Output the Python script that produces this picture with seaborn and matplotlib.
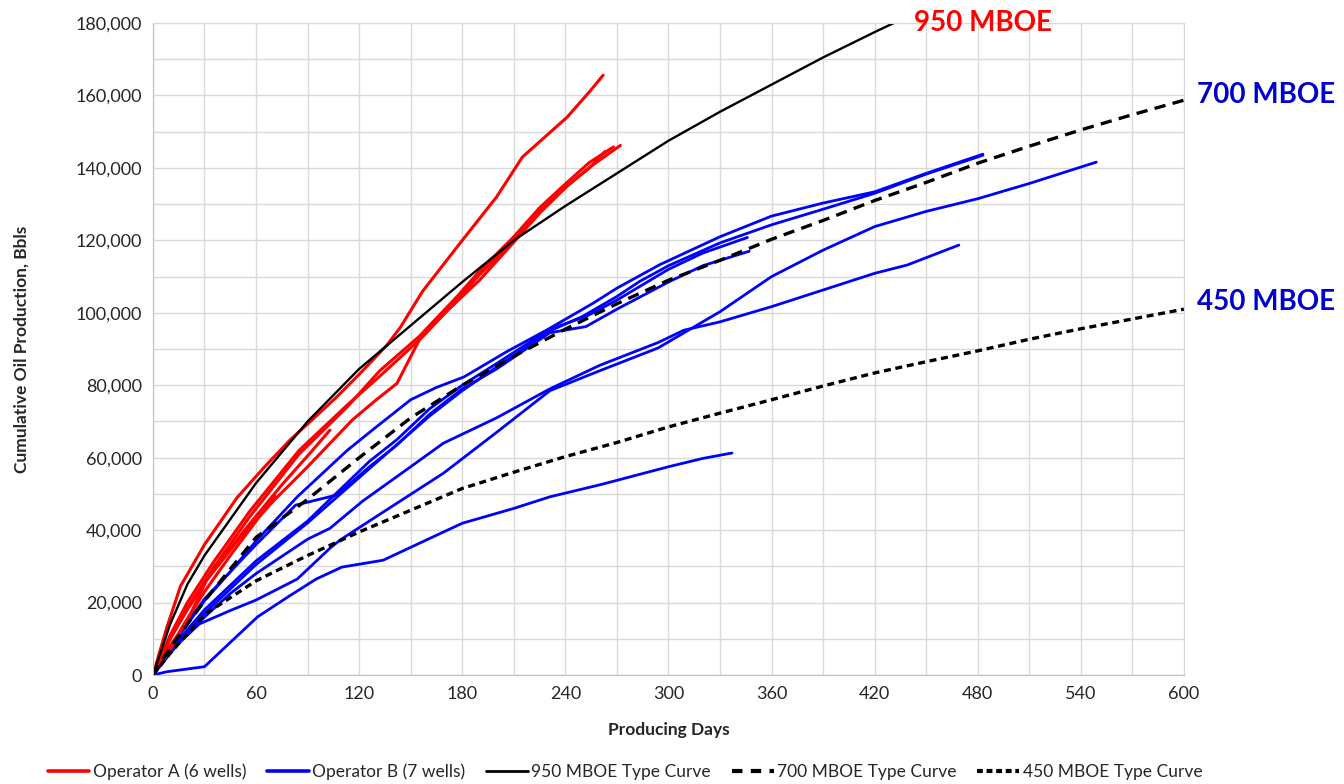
import matplotlib
matplotlib.use("Agg")
import matplotlib.pyplot as plt
from matplotlib.lines import Line2D
from matplotlib.ticker import MultipleLocator, FuncFormatter
import seaborn as sns
import pandas as pd

# ---- type curves ----
tc950_days = [0, 10, 20, 30, 45, 60, 90, 120, 150, 180, 210, 240, 270, 300, 330, 360, 390, 420, 440]
tc950_oil = [0, 14000, 25000, 33000, 43000, 53000, 70000, 84500, 96500, 108500, 120000, 129500,
             138500, 147500, 155500, 163000, 170500, 177500, 182000]

tc700_days = [0, 10, 30, 60, 90, 120, 150, 180, 210, 240, 270, 300, 330, 360, 390, 420, 450, 480,
              510, 540, 570, 600]
tc700_oil = [0, 7500, 20500, 38000, 48500, 60000, 71000, 80000, 88000, 95500, 102500, 109000,
             114500, 120300, 125500, 131000, 136000, 141300, 146000, 150500, 154700, 158700]

tc450_days = [0, 10, 30, 60, 90, 120, 150, 180, 210, 240, 270, 300, 330, 360, 390, 420, 450, 480,
              510, 540, 570, 600]
tc450_oil = [0, 6000, 16700, 26000, 33000, 39500, 45500, 51500, 56000, 60300, 64200, 68500, 72300,
             76000, 79800, 83400, 86500, 89500, 92700, 95600, 98300, 101000]

# ---- Operator A wells ----
a1_days = [0, 8, 16, 30, 49, 65, 80, 95, 107, 120, 136, 144, 157, 180, 200, 215, 228, 241, 254, 262]
a1_oil = [0, 13000, 24500, 36000, 49000, 57500, 65000, 71500, 76800, 83000, 91000, 96000, 106000,
          120000, 132000, 143000, 148500, 154000, 161000, 165600]
a2_days = [0, 10, 20, 35, 56, 85, 113, 132, 155, 177, 190, 210, 225, 241, 254, 263]
a2_oil = [0, 11000, 20000, 31000, 45000, 62000, 74500, 82500, 92500, 103500, 110500, 120000,
          128000, 135000, 140000, 144500]
a3_days = [0, 10, 20, 35, 56, 85, 113, 132, 155, 177, 190, 210, 225, 241, 254, 268]
a3_oil = [0, 10000, 18500, 29500, 43500, 61000, 74000, 84000, 93500, 104500, 111500, 121000,
          129000, 136000, 141500, 145800]
a4_days = [0, 10, 20, 31, 50, 70, 90, 116, 130, 142, 155, 170, 190, 210, 225, 241, 255, 272]
a4_oil = [0, 8000, 15000, 26000, 37500, 48000, 57500, 70400, 76000, 80500, 92500, 100000, 109000,
          119500, 127500, 135000, 140500, 146200]
a5_days = [0, 10, 20, 35, 55, 75, 90, 103]
a5_oil = [0, 10000, 18000, 29000, 41000, 52500, 60500, 67600]
a6_days = [0, 10, 18, 30, 45, 60, 71]
a6_oil = [0, 7000, 14000, 23000, 33000, 42500, 49400]

# ---- Operator B wells ----
b1_days = [0, 10, 20, 30, 45, 60, 84, 113, 130, 150, 165, 181, 206, 229, 256, 270, 295, 330, 360,
           390, 420, 450, 483]
b1_oil = [0, 7500, 14000, 20500, 28500, 37000, 49200, 62000, 68500, 76000, 79400, 82300, 89300,
          95200, 102600, 106800, 113300, 121000, 126700, 130300, 133400, 138500, 143800]
b2_days = [0, 10, 27, 45, 60, 84, 103, 109, 136, 169, 200, 231, 260, 294, 330, 360, 390, 420, 450,
           480, 510, 549]
b2_oil = [0, 6500, 14100, 17800, 20700, 26500, 35000, 37300, 45600, 55700, 67000, 78500, 84000,
          90300, 100300, 110000, 117300, 123800, 128000, 131500, 135700, 141600]
b3_days = [0, 15, 30, 45, 60, 90, 103, 122, 150, 169, 200, 231, 260, 294, 309, 330, 360, 390, 420,
           439, 469]
b3_oil = [0, 9000, 16000, 22500, 28000, 37500, 40500, 48000, 57500, 64000, 71000, 79000, 85500,
          91800, 95200, 97500, 101700, 106300, 110900, 113200, 118700]
b4_days = [0, 8, 30, 45, 61, 80, 95, 110, 134, 161, 180, 210, 231, 260, 280, 300, 320, 337]
b4_oil = [0, 900, 2300, 9000, 16100, 22000, 26500, 29800, 31700, 37700, 41900, 46000, 49200, 52500,
          55000, 57500, 59800, 61300]
b5_days = [0, 10, 30, 60, 90, 103, 126, 142, 161, 180, 200, 231, 252, 270, 300, 320, 346]
b5_oil = [0, 7000, 18000, 31500, 42500, 48500, 59000, 65000, 73500, 80000, 86000, 95500, 99000,
          103500, 112000, 116500, 120800]
b6_days = [0, 10, 30, 60, 83, 95, 107, 126, 142, 161, 180, 200, 231, 252, 270, 300, 320, 347]
b6_oil = [0, 8000, 21000, 36000, 46900, 48300, 49700, 57500, 63500, 72000, 79000, 84500, 94500,
          96200, 101000, 108500, 113000, 117000]
b7_days = [0, 10, 30, 60, 90, 126, 161, 180, 200, 231, 250, 270, 283, 300, 330, 360, 390, 420, 450,
           483]
b7_oil = [0, 6000, 17000, 30500, 42000, 57000, 71500, 78500, 85000, 95000, 99000, 104500, 108600,
          113000, 119300, 124300, 128600, 133000, 138300, 143500]

op_a = [(a1_days, a1_oil), (a2_days, a2_oil), (a3_days, a3_oil),
        (a4_days, a4_oil), (a5_days, a5_oil), (a6_days, a6_oil)]
op_b = [(b1_days, b1_oil), (b2_days, b2_oil), (b3_days, b3_oil), (b4_days, b4_oil),
        (b5_days, b5_oil), (b6_days, b6_oil), (b7_days, b7_oil)]


def wells_frame(wells, prefix):
    rows = []
    for i, (d, q) in enumerate(wells):
        for x, y in zip(d, q):
            rows.append({"day": x, "oil": y, "well": f"{prefix}{i + 1}"})
    return pd.DataFrame(rows)


df_a = wells_frame(op_a, "A")
df_b = wells_frame(op_b, "B")

sns.set_style("whitegrid")
plt.rcParams["font.family"] = ["Lato", "DejaVu Sans"]

fig = plt.figure(figsize=(13.44, 7.84), dpi=100)
ax = fig.add_axes([0.1138, 0.1390, 0.7671, 0.8316])

sns.lineplot(data=df_b, x="day", y="oil", units="well", estimator=None, sort=False,
             color="#0000FF", lw=2.0, legend=False, ax=ax)
sns.lineplot(data=df_a, x="day", y="oil", units="well", estimator=None, sort=False,
             color="#FF0000", lw=2.2, legend=False, ax=ax)
sns.lineplot(x=tc950_days, y=tc950_oil, color="black", lw=1.7, ax=ax)
sns.lineplot(x=tc700_days, y=tc700_oil, color="black", lw=2.4, ax=ax,
             linestyle=(0, (3.4, 2.2)))
sns.lineplot(x=tc450_days, y=tc450_oil, color="black", lw=2.4, ax=ax,
             linestyle=(0, (2.1, 1.4)))

ax.set_xlim(0, 600)
ax.set_ylim(0, 180000)
ax.xaxis.set_major_locator(MultipleLocator(60))
ax.xaxis.set_minor_locator(MultipleLocator(30))
ax.yaxis.set_major_locator(MultipleLocator(20000))
ax.yaxis.set_minor_locator(MultipleLocator(10000))
ax.yaxis.set_major_formatter(FuncFormatter(lambda v, p: f"{int(v):,}"))
ax.grid(which="both", color="#d9d9d9", lw=1.0)
ax.tick_params(which="major", length=5, color="#bfbfbf", labelsize=13, pad=3)
ax.tick_params(which="minor", length=0)
for s in ax.spines.values():
    s.set_color("#d9d9d9")
ax.spines["left"].set_color("#bfbfbf")
ax.spines["bottom"].set_color("#bfbfbf")

ax.set_xlabel("Producing Days", fontsize=12.5, fontweight="bold", labelpad=14)
ax.set_ylabel("Cumulative Oil Production, Bbls", fontsize=12.5, fontweight="bold", labelpad=33)

ax.text(0.738, 1.0, "950 MBOE", transform=ax.transAxes, color="#FF0000", fontsize=20,
        fontweight="bold", ha="left", va="center", clip_on=False)
ax.text(1.013, 0.889, "700 MBOE", transform=ax.transAxes, color="#0000CC", fontsize=20,
        fontweight="bold", ha="left", va="center", clip_on=False)
ax.text(1.013, 0.572, "450 MBOE", transform=ax.transAxes, color="#0000CC", fontsize=20,
        fontweight="bold", ha="left", va="center", clip_on=False)

handles = [Line2D([], [], color="#FF0000", lw=2.6),
           Line2D([], [], color="#0000FF", lw=2.6),
           Line2D([], [], color="black", lw=2.0),
           Line2D([], [], color="black", lw=3.0, linestyle=(0, (2.5, 2))),
           Line2D([], [], color="black", lw=3.0, linestyle=(0, (1.4, 0.9)))]
labels = ["Operator A (6 wells)", "Operator B (7 wells)", "950 MBOE Type Curve",
          "700 MBOE Type Curve", "450 MBOE Type Curve"]
fig.legend(handles, labels, loc="center", bbox_to_anchor=(0.465, 0.016), ncol=5,
           frameon=False, fontsize=12.5, handlelength=2.4, handletextpad=0.2,
           columnspacing=1.2)

fig.savefig("out.png", dpi=100)
